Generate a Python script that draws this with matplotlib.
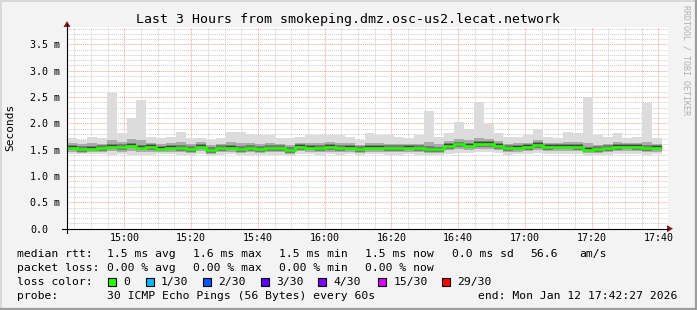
import numpy as np
import matplotlib
matplotlib.use("Agg")
import matplotlib.pyplot as plt
from matplotlib.patches import Polygon, Rectangle
from matplotlib.lines import Line2D

# ---------------- data (ms) ----------------
title = "Last 3 Hours from smokeping.dmz.osc-us2.lecat.network"
median = [1.54, 1.51, 1.52, 1.525, 1.56, 1.545, 1.575, 1.54, 1.55, 1.52, 1.54, 1.525, 1.51, 1.56, 1.49,
          1.525, 1.54, 1.51, 1.525, 1.51, 1.525, 1.525, 1.49, 1.55, 1.54, 1.525, 1.55, 1.525, 1.54, 1.51,
          1.54, 1.54, 1.525, 1.525, 1.54, 1.525, 1.51, 1.505, 1.57, 1.60, 1.575, 1.61, 1.61, 1.57, 1.525,
          1.54, 1.55, 1.59, 1.55, 1.56, 1.56, 1.55, 1.50, 1.51, 1.525, 1.55, 1.56, 1.55, 1.525, 1.54]
ping_max = [1.715, 1.68, 1.75, 1.715, 2.57, 1.81, 2.10, 2.44, 1.75, 1.72, 1.75, 1.84, 1.72, 1.72, 1.68,
            1.72, 1.84, 1.84, 1.80, 1.78, 1.78, 1.72, 1.72, 1.75, 1.78, 1.78, 1.78, 1.78, 1.75, 1.68,
            1.81, 1.78, 1.78, 1.75, 1.72, 1.78, 2.23, 1.75, 1.81, 2.03, 1.90, 2.41, 1.98, 1.81, 1.75,
            1.75, 1.78, 1.90, 1.75, 1.72, 1.84, 1.81, 2.50, 1.78, 1.75, 1.81, 1.72, 1.75, 2.38, 1.72]
ping_min = [1.42, 1.41, 1.42, 1.41, 1.40, 1.41, 1.39, 1.39, 1.40, 1.41, 1.41, 1.40, 1.40, 1.41, 1.38,
            1.40, 1.41, 1.40, 1.40, 1.40, 1.40, 1.40, 1.38, 1.41, 1.41, 1.40, 1.41, 1.40, 1.41, 1.40,
            1.41, 1.41, 1.40, 1.40, 1.41, 1.40, 1.39, 1.39, 1.42, 1.44, 1.43, 1.45, 1.46, 1.43, 1.40,
            1.41, 1.42, 1.43, 1.41, 1.42, 1.42, 1.41, 1.38, 1.39, 1.40, 1.41, 1.42, 1.41, 1.40, 1.41]
ping_hi = [1.62, 1.60, 1.62, 1.61, 1.68, 1.64, 1.70, 1.68, 1.63, 1.60, 1.62, 1.64, 1.60, 1.64, 1.58,
           1.61, 1.64, 1.63, 1.62, 1.61, 1.62, 1.60, 1.59, 1.63, 1.63, 1.63, 1.64, 1.62, 1.62, 1.59,
           1.63, 1.62, 1.61, 1.61, 1.61, 1.61, 1.64, 1.60, 1.66, 1.70, 1.68, 1.72, 1.71, 1.67, 1.61,
           1.62, 1.63, 1.68, 1.63, 1.63, 1.65, 1.64, 1.62, 1.59, 1.61, 1.64, 1.63, 1.63, 1.64, 1.61]
ping_lo = [1.46, 1.44, 1.45, 1.45, 1.47, 1.46, 1.48, 1.45, 1.46, 1.45, 1.46, 1.45, 1.44, 1.47, 1.42,
           1.45, 1.46, 1.44, 1.45, 1.44, 1.45, 1.45, 1.42, 1.47, 1.46, 1.45, 1.46, 1.45, 1.46, 1.44,
           1.46, 1.46, 1.45, 1.45, 1.46, 1.45, 1.44, 1.43, 1.49, 1.51, 1.49, 1.52, 1.52, 1.49, 1.45,
           1.46, 1.47, 1.50, 1.47, 1.48, 1.48, 1.47, 1.43, 1.44, 1.45, 1.47, 1.48, 1.47, 1.45, 1.46]

ytick_vals = [0.0, 0.5, 1.0, 1.5, 2.0, 2.5, 3.0, 3.5]
ytick_labels = ["0.0", "0.5 m", "1.0 m", "1.5 m", "2.0 m", "2.5 m", "3.0 m", "3.5 m"]
xtick_vals = [60, 80, 100, 120, 140, 160, 180, 200, 220]  # minutes after 14:00
xtick_labels = ["15:00", "15:20", "15:40", "16:00", "16:20", "16:40", "17:00", "17:20", "17:40"]

legend_rows = [
    [("median rtt:", 16.7), ("1.5 ms avg", 107.3), ("1.6 ms max", 193.3), ("1.5 ms min", 279.3),
     ("1.5 ms now", 365.0), ("0.0 ms sd", 451.7), ("56.6", 530.0), ("am/s", 579.3)],
    [("packet loss:", 16.7), ("0.00 % avg", 107.3), ("0.00 % max", 193.3), ("0.00 % min", 279.3),
     ("0.00 % now", 365.0)],
    [("loss color:", 16.7)],
    [("probe:", 16.7), ("30 ICMP Echo Pings (56 Bytes) every 60s", 107.3),
     ("end: Mon Jan 12 17:42:27 2026", 478.3)],
]
loss_labels = ["0", "1/30", "2/30", "3/30", "4/30", "15/30", "29/30"]
loss_colors = ["#26ff00", "#00b8ff", "#0059ff", "#5e00ff", "#7e00ff", "#dd00ff", "#ff0000"]
loss_box_x = [108.3, 145.7, 203.3, 261.0, 318.3, 378.3, 441.7]

# ---------------- layout ----------------
W, H = 697, 310
fig = plt.figure(figsize=(W / 100, H / 100), dpi=100, facecolor="#f3f3f3")
plt.rcParams["font.family"] = ["DejaVu Sans Mono"]

x0_px, x1_px = 67.0, 667.75
y0_px, y1_px = 228.7, 26.7
ax = fig.add_axes([x0_px / W, 1 - y0_px / H, (x1_px - x0_px) / W, (y0_px - y1_px) / H])
ax.set_facecolor("white")

t_start, t_end = 42.8, 222.8
ymax = 3.835
ax.set_xlim(t_start, t_end)
ax.set_ylim(0, ymax)

n = len(median)
step = 2.972
edges = t_start + step * np.arange(n + 1)

med = np.array(median)
# smoke layers
ax.stairs(ping_max, edges, baseline=ping_min, fill=True, color="#dcdcdc", lw=0, zorder=2)
ax.stairs(ping_hi, edges, baseline=ping_lo, fill=True, color="#ababab", lw=0, zorder=3)
ax.stairs(med + 0.055, edges, baseline=med - 0.05, fill=True, color="#7a7a7a", lw=0, zorder=4)
ax.stairs(med + 0.03, edges, baseline=med - 0.03, fill=True, color="#444444", lw=0, zorder=5)
# median line
ax.stairs(median, edges, baseline=None, color="#26ff00", lw=1.9, zorder=6)

# grid
dot = (0, (1, 1))
for m in np.arange(45, 222.8, 5):
    if (m % 20) != 0:
        ax.axvline(m, color="#cccccc", lw=0.7, ls=dot, zorder=1)
for m in xtick_vals:
    ax.axvline(m, color="#f2a0a0", lw=0.7, ls=dot, zorder=1.5)
for v in np.arange(0.1, 3.81, 0.1):
    if abs(v / 0.5 - round(v / 0.5)) > 1e-6:
        ax.axhline(v, color="#cccccc", lw=0.7, ls=dot, zorder=1)
for v in ytick_vals[1:]:
    ax.axhline(v, color="#f2a0a0", lw=0.7, ls=dot, zorder=1.5)

for s in ax.spines.values():
    s.set_visible(False)
ax.set_xticks(xtick_vals)
ax.set_xticklabels(xtick_labels, fontsize=7.2)
ax.set_yticks(ytick_vals)
ax.set_yticklabels(ytick_labels, fontsize=7.2)
for lab in ax.get_yticklabels():
    lab.set_horizontalalignment("left")
ax.tick_params(axis="y", length=0, pad=(x0_px - 30) * 0.72)
ax.tick_params(axis="x", length=0, pad=3.2)

# axis lines & arrows in pixel coords
def P(x, y):
    return (x / W, 1 - y / H)

fig.add_artist(Line2D([62 / W, 668 / W], [1 - y0_px / H] * 2, color="black", lw=0.8))
fig.add_artist(Line2D([x0_px / W] * 2, [1 - 233 / H, 1 - 24 / H], color="black", lw=0.8))
fig.add_artist(Polygon([P(667, 225.2), P(667, 232.2), P(673, 228.7)], closed=True,
                       color="#8b1a1a", lw=0))
fig.add_artist(Polygon([P(63.5, 27), P(70.5, 27), P(67, 21)], closed=True,
                       color="#8b1a1a", lw=0))

# frame
fig.add_artist(Line2D([0, 1], [1 - 0.5 / H] * 2, color="#d8d8d8", lw=1.4))
fig.add_artist(Line2D([0.5 / W] * 2, [0, 1], color="#d8d8d8", lw=1.4))
fig.add_artist(Line2D([0, 1], [1 / H] * 2, color="#9c9c9c", lw=1.6))
fig.add_artist(Line2D([1 - 1 / W] * 2, [0, 1], color="#9c9c9c", lw=1.6))

# texts
fig.text(347.8 / W, 1 - 19.5 / H, title, ha="center", va="center", fontsize=9.5)
fig.text(10 / W, 1 - 127 / H, "Seconds", rotation=90, ha="center", va="center", fontsize=8)
fig.text(686 / W, 1 - 60 / H, "RRDTOOL / TOBI OETIKER", rotation=270, ha="center",
         va="center", fontsize=6, color="#b0b0b0")

row_y = [254.3, 268.3, 282.3, 296.0]
for row, yy in zip(legend_rows, row_y):
    for txt, xx in row:
        fig.text(xx / W, 1 - yy / H, txt, ha="left", va="center", fontsize=8.2)

for lab, col, bx in zip(loss_labels, loss_colors, loss_box_x):
    fig.add_artist(Rectangle((bx / W, 1 - 286.3 / H), 8 / W, 8 / H, facecolor=col,
                             edgecolor="black", lw=0.8))
    fig.text((bx + 15) / W, 1 - 282.3 / H, lab, ha="left", va="center", fontsize=8.2)

fig.savefig("out.png", dpi=100, facecolor=fig.get_facecolor())
